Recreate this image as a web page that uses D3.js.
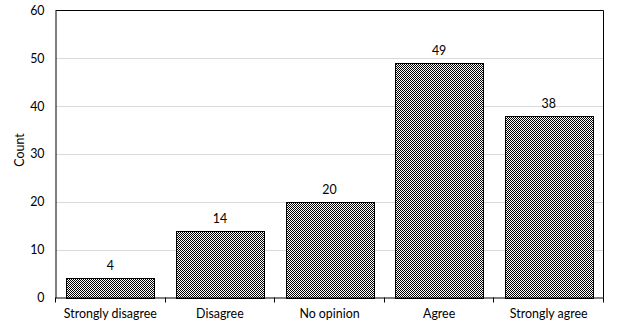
<!DOCTYPE html>
<html><head><meta charset="utf-8">
<script src="https://cdn.jsdelivr.net/npm/d3@7"></script>
<style>
body{margin:0;background:#fff;}
svg text{font-family:Lato,"Open Sans",sans-serif;font-size:12.4px;fill:#000;}
</style></head>
<body><svg id="c" width="633" height="331"></svg>
<script>
const categories = ["Strongly disagree","Disagree","No opinion","Agree","Strongly agree"];
const counts = [4,14,20,49,38];
const yTicks = [0,10,20,30,40,50,60];

const FONT = 'Lato,"Open Sans",sans-serif';
const FS = "12.4px";
const svg = d3.select("#c");
const m = {l:55.5, r:603.5, t:10.5, b:297.5};
const x = d3.scaleBand().domain(categories).range([m.l, m.r]).paddingInner(0.2).paddingOuter(0.1);
const y = d3.scaleLinear().domain([0,60]).range([m.b, m.t]);

const defs = svg.append("defs");
const pat = defs.append("pattern").attr("id","chk").attr("patternUnits","userSpaceOnUse")
  .attr("width",2).attr("height",2);
pat.append("rect").attr("width",2).attr("height",2).attr("fill","#fff");
pat.append("rect").attr("x",0).attr("y",0).attr("width",1).attr("height",1).attr("fill","#000");
pat.append("rect").attr("x",1).attr("y",1).attr("width",1).attr("height",1).attr("fill","#000");

// gridlines
svg.append("g").selectAll("line").data(yTicks.filter(d=>d>0 && d<60)).join("line")
  .attr("x1",m.l).attr("x2",m.r).attr("y1",d=>Math.round(y(d))+0.5).attr("y2",d=>Math.round(y(d))+0.5)
  .attr("stroke","#d9d9d9").attr("stroke-width",1);

// bars
svg.append("g").selectAll("rect").data(counts).join("rect")
  .attr("x",(d,i)=>Math.round(x(categories[i]))+0.5)
  .attr("y",d=>Math.round(y(d))+0.5)
  .attr("width",Math.round(x.bandwidth()))
  .attr("height",d=>Math.round(y(0))-Math.round(y(d)))
  .attr("fill","url(#chk)").attr("stroke","#000").attr("stroke-width",1);

// value labels
svg.append("g").selectAll("text").data(counts).join("text")
  .attr("x",(d,i)=>x(categories[i])+x.bandwidth()/2)
  .attr("y",d=>y(d)-8)
  .attr("text-anchor","middle").text(d=>d);

// frame: top & right
svg.append("path").attr("d",`M${m.l},${m.t}H${m.r}V${m.b}`).attr("fill","none").attr("stroke","#000");

// y axis
const ya = d3.axisLeft(y).tickValues(yTicks).tickSize(0).tickPadding(11);
const gy = svg.append("g").attr("transform",`translate(${m.l},0)`).call(ya);
gy.select(".domain").attr("stroke","#000");
gy.selectAll("text").style("font-family",FONT).style("font-size",FS);

// x axis
const xa = d3.axisBottom(x).tickSize(0).tickPadding(12);
const gx = svg.append("g").attr("transform",`translate(0,${m.b})`).call(xa);
gx.select(".domain").attr("stroke","#000");
gx.selectAll("text").style("font-family",FONT).style("font-size",FS);
// boundary ticks
const bounds = d3.range(categories.length+1).map(i => m.l + (m.r-m.l)*i/categories.length);
svg.append("g").selectAll("line").data(bounds).join("line")
  .attr("x1",d=>Math.round(d-0.5)+0.5).attr("x2",d=>Math.round(d-0.5)+0.5)
  .attr("y1",m.b).attr("y2",m.b+5).attr("stroke","#000");

// y title
svg.append("text").attr("transform","translate(24,150) rotate(-90)")
  .attr("text-anchor","middle").text("Count");
</script></body></html>
